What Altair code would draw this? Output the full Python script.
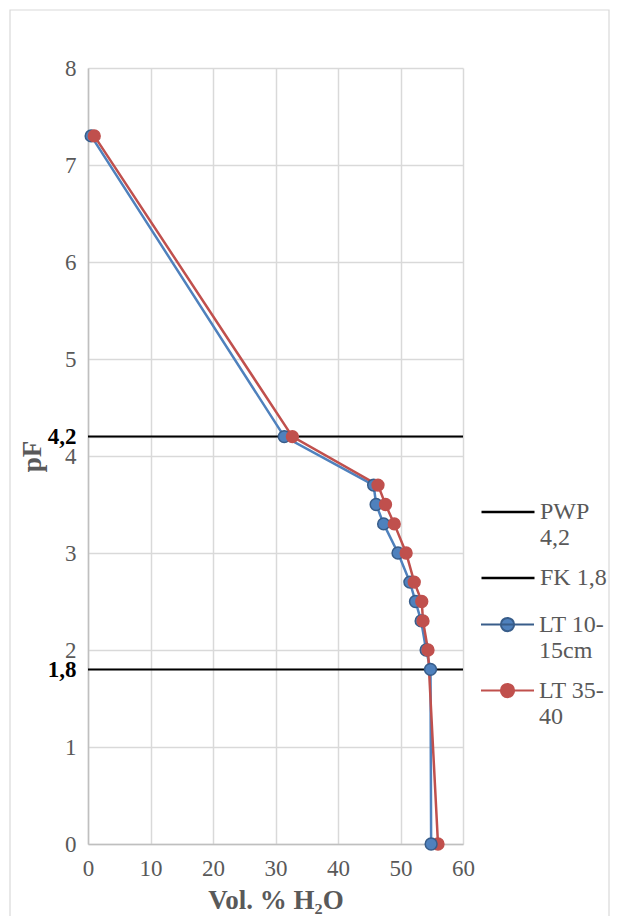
import altair as alt
import pandas as pd

# Water retention (pF) curves
blue_pf = [7.3, 4.2, 3.7, 3.5, 3.3, 3.0, 2.7, 2.5, 2.3, 2.0, 1.8, 0.0]
blue_vol = [0.5, 31.4, 45.7, 46.1, 47.3, 49.6, 51.5, 52.4, 53.3, 54.1, 54.8, 54.9]
red_pf = [7.3, 4.2, 3.7, 3.5, 3.3, 3.0, 2.7, 2.5, 2.3, 2.0, 0.0]
red_vol = [1.0, 32.7, 46.4, 47.6, 49.0, 50.9, 52.2, 53.4, 53.6, 54.4, 56.0]

series_names = ["LT 10-15cm", "LT 35-40"]
ref_names = ["PWP 4,2", "FK 1,8"]
ref_pf = [4.2, 1.8]

x_ticks = [0, 10, 20, 30, 40, 50, 60]
y_ticks = [0, 1, 2, 3, 4, 5, 6, 7, 8]

rows = []
for i, (p, v) in enumerate(zip(blue_pf, blue_vol)):
    rows.append({"series": series_names[0], "pF": p, "vol": v, "idx": i})
for i, (p, v) in enumerate(zip(red_pf, red_vol)):
    rows.append({"series": series_names[1], "pF": p, "vol": v, "idx": i})
df = pd.DataFrame(rows)
ref_df = pd.DataFrame({"name": ref_names, "pF": ref_pf})

GRAY = "#595959"
FONT = "Liberation Serif"
BLUE = "#4F81BD"
BLUE_DARK = "#385D8A"
RED = "#C0504D"

common_axis = dict(
    labelFont=FONT, labelFontSize=23, titleFont=FONT, titleFontSize=27,
    titleColor=GRAY, titleFontWeight="bold", grid=True, ticks=False,
    gridColor="#D9D9D9", gridWidth=1.5, domainColor="#BFBFBF", domainWidth=1.5,
)

x_enc = alt.X(
    "vol:Q",
    scale=alt.Scale(domain=[0, 60], nice=False),
    axis=alt.Axis(
        values=x_ticks, title="Vol. % H₂O", labelColor=GRAY, labelFlush=False,
        labelPadding=13, titleY=43, titleBaseline="top", **common_axis,
    ),
)
hl = "abs(datum.value-4.2)<0.01 || abs(datum.value-1.8)<0.01"
y_axis = alt.Axis(
    values=y_ticks + [4.2, 1.8],
    labelExpr="abs(datum.value-4.2)<0.01 ? '4,2' : abs(datum.value-1.8)<0.01 ? '1,8' : format(datum.value, 'd')",
    labelColor={"condition": {"test": hl, "value": "black"}, "value": GRAY},
    labelFontWeight={"condition": {"test": hl, "value": "bold"}, "value": "normal"},
    labelOverlap=False, labelFlush=False,
    title="pF", labelPadding=12,
    titleX=-42, titleY=388, **common_axis,
)
y_enc = alt.Y("pF:Q", scale=alt.Scale(domain=[0, 8], nice=False), axis=y_axis)

# light frame around the whole chart area
frame = alt.Chart(ref_df).mark_rect(fill=None, stroke="#D9D9D9", strokeWidth=1.2).encode(
    x=alt.value(-78), x2=alt.value(521), y=alt.value(-58), y2=alt.value(900)
).transform_filter(alt.datum.name == ref_names[0])

rules = alt.Chart(ref_df).mark_rule(strokeWidth=2).encode(
    y=y_enc,
    color=alt.Color(
        "name:N",
        scale=alt.Scale(domain=ref_names, range=["black", "black"]),
        legend=alt.Legend(
            title=None, orient="none", legendX=392, legendY=416,
            symbolType="stroke", symbolSize=2809, symbolStrokeWidth=2.5,
            labelExpr="datum.label == 'PWP 4,2' ? ['PWP', '4,2'] : datum.label",
        ),
    ),
)

line_layers = []
for name, col in zip(series_names, [BLUE, RED]):
    line_layers.append(
        alt.Chart(df).transform_filter(alt.datum.series == name)
        .mark_line(color=col, strokeWidth=2.5)
        .encode(x=x_enc, y=y_enc, order="idx:Q")
    )

legend_path = "M-1,0L1,0M0.25,0A0.25,0.25,0,1,1,-0.25,0A0.25,0.25,0,1,1,0.25,0Z"
series_legend = dict(
    title=None, orient="none", legendX=392, legendY=529,
    symbolType=legend_path, symbolSize=2809, symbolStrokeWidth=2,
    labelExpr="datum.label == 'LT 10-15cm' ? ['LT 10-', '15cm'] : ['LT 35-', '40']",
)
points = alt.Chart(df).mark_point(filled=True, shape="circle", size=140, strokeWidth=1.5, opacity=1).encode(
    x=x_enc,
    y=y_enc,
    fill=alt.Fill("series:N", scale=alt.Scale(domain=series_names, range=[BLUE, RED]),
                  legend=alt.Legend(**series_legend)),
    stroke=alt.Stroke("series:N", scale=alt.Scale(domain=series_names, range=[BLUE_DARK, RED]),
                      legend=alt.Legend(**series_legend)),
    order="idx:Q",
)

chart = alt.layer(frame, rules, *line_layers, points).resolve_scale(color="independent").properties(
    width=375, height=776,
    autosize=alt.AutoSizeParams(type="none"),
    padding={"left": 80, "top": 60, "right": 147, "bottom": 72},
).configure_view(stroke=None).configure_legend(
    labelFont=FONT, labelFontSize=24, labelColor=GRAY, padding=0,
    labelLimit=200, rowPadding=-8,
)

chart.save("out.html", embed_options={"renderer": "svg", "actions": False})
